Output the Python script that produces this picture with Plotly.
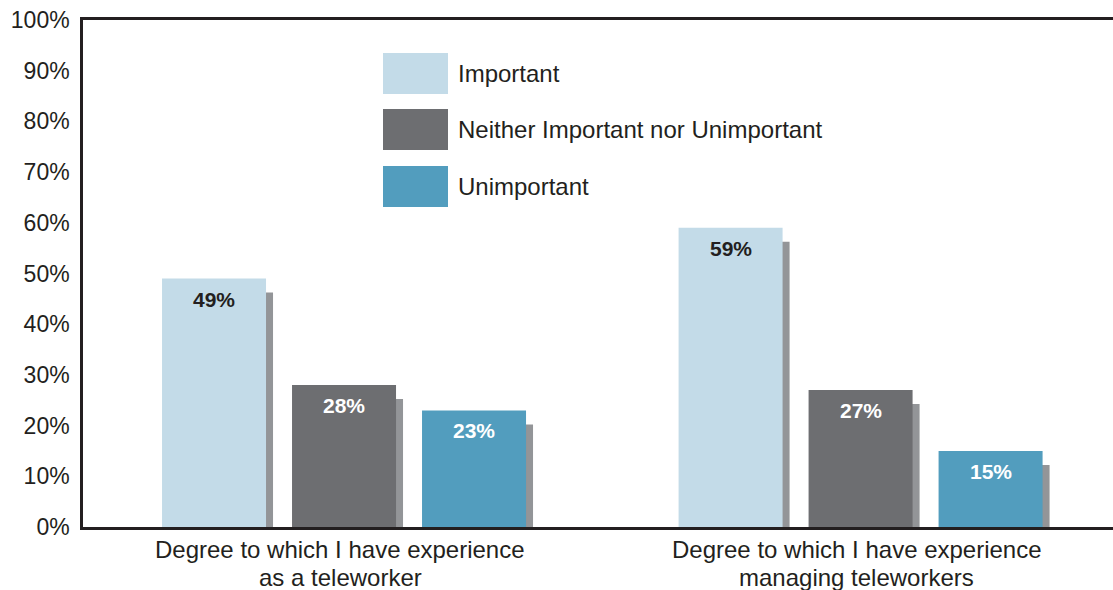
import plotly.graph_objects as go

# data
categorias = [["Degree to which I have experience", "as a teleworker"],
              ["Degree to which I have experience", "managing teleworkers"]]
series = ["Important", "Neither Important nor Unimportant", "Unimportant"]
important = [49, 59]
neither = [28, 27]
unimportant = [23, 15]
valores = [important, neither, unimportant]

cores = ["#c3dbe8", "#6d6e71", "#529dbe"]
cor_texto = ["#231f20", "#ffffff", "#ffffff"]
cor_sombra = "#939598"
cor_eixo = "#231f20"
fonte = "Liberation Sans, Arial, sans-serif"

# layout in pixels (plot area 83..1113 x 20..527)
W, H = 1113, 590
L, R, T, B = 83, 0, 20, 63
largura_plot = W - L - R
altura_plot = H - T - B
x_range = [-0.504, 1.49]
px_unidade = largura_plot / (x_range[1] - x_range[0])

largura_barra = 104 / px_unidade
gap_barra = 26 / px_unidade
offsets = [-0.351 + i * (largura_barra + gap_barra) for i in range(3)]
sombra_dx = 7 / px_unidade
sombra_dy = 14 / altura_plot * 100

x_cat = ["<br>".join(c) for c in categorias]

fig = go.Figure()

# sombras primeiro, barras por cima
for i, vals in enumerate(valores):
    fig.add_trace(go.Bar(
        x=x_cat, y=[v - sombra_dy for v in vals],
        offset=offsets[i] + sombra_dx, width=largura_barra,
        marker=dict(color=cor_sombra, line=dict(width=0)),
        showlegend=False, hoverinfo="skip"
    ))

for i, vals in enumerate(valores):
    fig.add_trace(go.Bar(
        x=x_cat, y=vals, name=series[i],
        offset=offsets[i], width=largura_barra,
        marker=dict(color=cores[i], line=dict(width=0)),
        showlegend=False
    ))
    for j, v in enumerate(vals):
        fig.add_annotation(
            x=j + offsets[i] + largura_barra / 2, y=v,
            text=f"<b>{v}%</b>", showarrow=False,
            yanchor="top", yshift=-7,
            font=dict(family=fonte, size=21, color=cor_texto[i])
        )

def px_x(p):
    return (p - L) / largura_plot

def px_y(p):
    return (H - B - p) / altura_plot

# rótulos das categorias (duas linhas, espaçamento apertado)
linhas_y = [549, 577]
for j, linhas in enumerate(categorias):
    for k, txt in enumerate(linhas):
        fig.add_annotation(x=j - 0.006, xref="x", yref="paper", y=px_y(linhas_y[k]),
                           xanchor="center", yanchor="middle", text=txt, showarrow=False,
                           font=dict(family=fonte, size=24, color=cor_eixo))

# legenda desenhada à mão (quadrados grandes)
legenda_y = [(53, 94), (109, 150), (166, 207)]
for i, nome in enumerate(series):
    y0, y1 = legenda_y[i]
    fig.add_shape(type="rect", xref="paper", yref="paper",
                  x0=px_x(383), x1=px_x(448), y0=px_y(y1), y1=px_y(y0),
                  fillcolor=cores[i], line=dict(width=0))
    fig.add_annotation(xref="paper", yref="paper", x=px_x(456), y=px_y((y0 + y1) / 2),
                       xanchor="left", yanchor="middle", text=nome, showarrow=False,
                       font=dict(family=fonte, size=24, color=cor_eixo))

fig.update_layout(
    width=W, height=H,
    barmode="overlay",
    margin=dict(l=L, r=R, t=T, b=B, autoexpand=False),
    plot_bgcolor="white",
    paper_bgcolor="white",
    font=dict(family=fonte, size=23, color=cor_eixo),
    xaxis=dict(range=x_range, showgrid=False, showline=True, linecolor=cor_eixo,
               linewidth=2.5, mirror=True, ticks="", showticklabels=False,
               automargin=False),
    yaxis=dict(range=[0, 100], showgrid=False, showline=True, linecolor=cor_eixo,
               linewidth=2.5, ticks="", tickvals=list(range(0, 101, 10)),
               ticktext=[f"{v}%" for v in range(0, 101, 10)], ticklabelstandoff=6,
               tickfont=dict(size=23), zeroline=False, automargin=False)
)

# tira a margem padrão do body para a figura ocupar a janela inteira
fig.write_html("out.html", config={"displayModeBar": False},
               post_script="document.body.style.margin='0';")
